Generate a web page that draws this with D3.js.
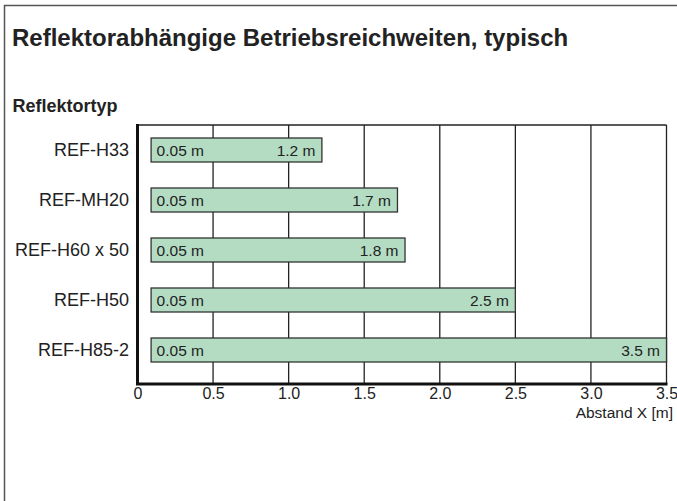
<!DOCTYPE html>
<html>
<head>
<meta charset="utf-8">
<script src="https://cdn.jsdelivr.net/npm/d3@7"></script>
<style>
  body { margin: 0; background: #fff; }
  svg { display: block; font-family: "Liberation Sans", Arial, Helvetica, sans-serif; }
</style>
</head>
<body>
<svg id="chart"></svg>
<script>
// reflector types (top to bottom)
const reflectors = ['REF-H33', 'REF-MH20', 'REF-H60 x 50', 'REF-H50', 'REF-H85-2'];
// range labels as printed on the bars
const minLabels = ['0.05 m', '0.05 m', '0.05 m', '0.05 m', '0.05 m'];
const maxLabels = ['1.2 m', '1.7 m', '1.8 m', '2.5 m', '3.5 m'];
// drawn extent of each bar [m]
const barFrom = [0.09, 0.09, 0.09, 0.09, 0.09];
const barTo = [1.22, 1.72, 1.77, 2.5, 3.5];
// x ticks
const xTicks = [0, 0.5, 1.0, 1.5, 2.0, 2.5, 3.0, 3.5];
const xTickLabels = ['0', '0.5', '1.0', '1.5', '2.0', '2.5', '3.0', '3.5'];

const data = reflectors.map((r, i) => ({
  name: r, from: barFrom[i], to: barTo[i], minLabel: minLabels[i], maxLabel: maxLabels[i]
}));

var width = 677;
var height = 501;
var plot = { top: 125, bottom: 384, left: 137.5, right: 666.5 };
var ink = '#222';

var svg = d3.select('#chart')
  .attr('width', width)
  .attr('height', height)
  .attr('viewBox', [0, 0, width, height]);

// outer frame (runs off the right/bottom edge)
svg.append('rect')
  .attr('x', 4.5).attr('y', 5.5)
  .attr('width', width + 10).attr('height', height + 10)
  .attr('fill', 'none')
  .attr('stroke', '#555')
  .attr('stroke-width', 1.5);

// titles
svg.append('text')
  .attr('x', 12).attr('y', 46)
  .attr('font-size', 24).attr('font-weight', 'bold')
  .attr('fill', ink)
  .text('Reflektorabhängige Betriebsreichweiten, typisch');

svg.append('text')
  .attr('x', 12.5).attr('y', 111.5)
  .attr('font-size', 18).attr('font-weight', 'bold')
  .attr('fill', ink)
  .text('Reflektortyp');

///////////////////////////////////////////////////////////////////////////
// scales
var x = d3.scaleLinear()
  .domain([0, 3.5])
  .range([plot.left, plot.right]);

var y = d3.scaleBand()
  .domain(reflectors)
  .range([plot.top, plot.top + 250])
  .paddingInner(0.52)
  .paddingOuter(0.26);

///////////////////////////////////////////////////////////////////////////
// grid + plot border
svg.append('g')
  .selectAll('line')
  .data(xTicks.slice(1))
  .join('line')
    .attr('x1', d => x(d)).attr('x2', d => x(d))
    .attr('y1', plot.top).attr('y2', plot.bottom)
    .attr('stroke', ink)
    .attr('stroke-width', 1.3);

svg.append('line')
  .attr('x1', plot.left).attr('x2', plot.right)
  .attr('y1', plot.top).attr('y2', plot.top)
  .attr('stroke', ink).attr('stroke-width', 1.3);

///////////////////////////////////////////////////////////////////////////
// bars
svg.append('g')
  .selectAll('rect')
  .data(data)
  .join('rect')
    .attr('x', d => x(d.from))
    .attr('y', d => y(d.name))
    .attr('width', d => x(d.to) - x(d.from))
    .attr('height', y.bandwidth())
    .attr('fill', '#b3dcc2')
    .attr('stroke', '#333')
    .attr('stroke-width', 1.3);

// labels inside the bars
svg.append('g')
  .selectAll('text')
  .data(data)
  .join('text')
    .attr('x', d => x(d.from) + 5.5)
    .attr('y', d => y(d.name) + y.bandwidth() / 2)
    .attr('dy', '0.36em')
    .attr('font-size', 15.5)
    .attr('fill', ink)
    .text(d => d.minLabel);

svg.append('g')
  .selectAll('text')
  .data(data)
  .join('text')
    .attr('x', d => x(d.to) - 6.5)
    .attr('y', d => y(d.name) + y.bandwidth() / 2)
    .attr('dy', '0.36em')
    .attr('text-anchor', 'end')
    .attr('font-size', 15.5)
    .attr('fill', ink)
    .text(d => d.maxLabel);

///////////////////////////////////////////////////////////////////////////
// axes
var yAxis = svg.append('g')
  .attr('transform', 'translate(' + (plot.left - 8.5) + ',0)')
  .call(d3.axisLeft(y).tickSize(0).tickPadding(0));
yAxis.select('.domain').remove();
yAxis.selectAll('text')
  .attr('font-size', 18)
  .attr('font-family', null)
  .attr('fill', ink);

var xAxis = svg.append('g')
  .attr('transform', 'translate(0,' + plot.bottom + ')')
  .call(d3.axisBottom(x).tickValues(xTicks).tickSize(0).tickPadding(4)
    .tickFormat((d, i) => xTickLabels[i]));
xAxis.select('.domain').remove();
xAxis.selectAll('text')
  .attr('font-size', 16)
  .attr('font-family', null)
  .attr('fill', ink);

// thick left and bottom axis lines
svg.append('path')
  .attr('d', 'M' + plot.left + ',' + (plot.top - 1) + 'V' + plot.bottom + 'H' + (plot.right + 1))
  .attr('fill', 'none')
  .attr('stroke', '#111')
  .attr('stroke-width', 3);

svg.append('text')
  .attr('x', 673).attr('y', 417.5)
  .attr('text-anchor', 'end')
  .attr('font-size', 15.5)
  .attr('fill', ink)
  .text('Abstand X [m]');
</script>
</body>
</html>
